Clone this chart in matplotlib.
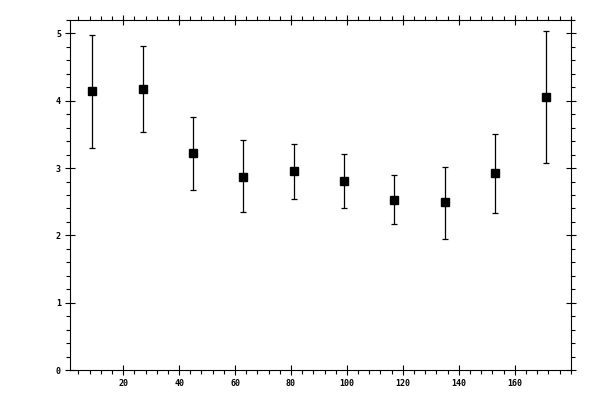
import numpy as np
import matplotlib.pyplot as plt
from matplotlib.ticker import MultipleLocator

# valores
x = [9, 27, 45, 63, 81, 99, 117, 135, 153, 171]
y = [4.14, 4.17, 3.23, 2.87, 2.95, 2.81, 2.53, 2.49, 2.92, 4.06]
y_top = [4.97, 4.81, 3.76, 3.41, 3.36, 3.21, 2.90, 3.02, 3.51, 5.04]
y_bot = [3.30, 3.53, 2.68, 2.35, 2.54, 2.41, 2.17, 1.95, 2.34, 3.08]

y = np.array(y)
err = [y - np.array(y_bot), np.array(y_top) - y]

fig = plt.figure(figsize=(6, 4), dpi=100)
ax = fig.add_axes([70 / 600, 30 / 400, 500.7 / 600, 350 / 400])

ax.errorbar(x, y, yerr=err, fmt='s', color='black', ms=5.5, elinewidth=0.9,
            capsize=2.2, capthick=0.9)

ax.set_xlim(1, 180)
ax.set_ylim(0, 5.2)
ax.xaxis.set_major_locator(MultipleLocator(20))
ax.xaxis.set_minor_locator(MultipleLocator(4))
ax.yaxis.set_major_locator(MultipleLocator(1))
ax.yaxis.set_minor_locator(MultipleLocator(0.2))

ax.tick_params(which='both', top=True, right=True, width=0.8, color='black')
ax.tick_params(which='major', direction='inout', length=7, pad=3,
               labelsize=6)
ax.tick_params(which='minor', direction='out', length=3)
ax.set_xticks([20, 40, 60, 80, 100, 120, 140, 160])
for lab in ax.get_xticklabels() + ax.get_yticklabels():
    lab.set_family('DejaVu Sans Mono')
    lab.set_weight('bold')
for s in ax.spines.values():
    s.set_linewidth(0.8)

plt.savefig('out.png', dpi=100)
